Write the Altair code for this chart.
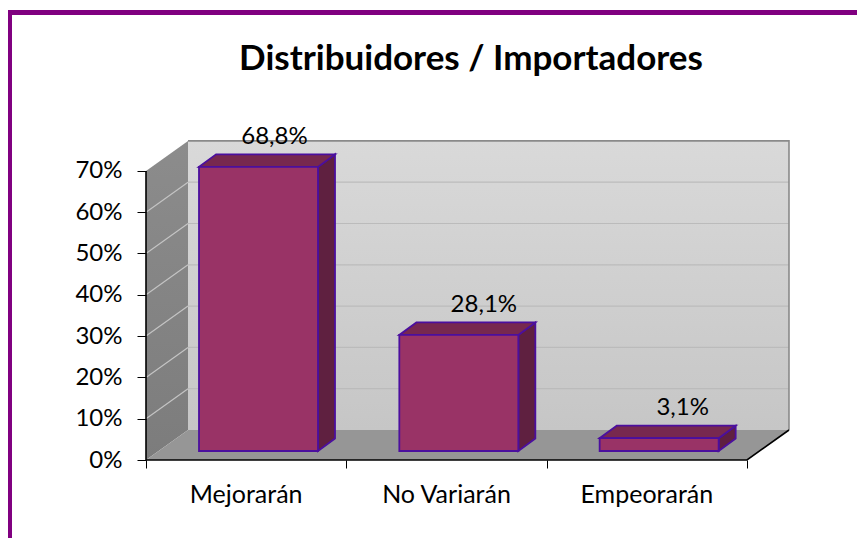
import altair as alt
import pandas as pd

title_text = "Distribuidores / Importadores"
categories = ["Mejorarán", "No Variarán", "Empeorarán"]
values = [68.8, 28.1, 3.1]
labels = ["68,8%", "28,1%", "3,1%"]
tick_values = [0, 10, 20, 30, 40, 50, 60, 70]

# layout constants (pixels per data unit and projected depths)
PX_X = 200.33
PX_Y = 4.13
WIDTH = 643
HEIGHT = 320
DX = 42 / PX_X
DY = 30 / PX_Y
GAP = 53 / PX_X
BAR_W = 119 / PX_X
BASE = 9 / PX_Y
BAR_DX = 17 / PX_X
BAR_DY = 12.5 / PX_Y
LABEL_DX = [16, 25, 23.5]
LABEL_DY = -30
N = len(categories)
TOP = tick_values[-1]

xs = alt.Scale(domain=[0, WIDTH / PX_X], nice=False, zero=False)
ys = alt.Scale(domain=[0, HEIGHT / PX_Y], nice=False, zero=False)
FONT = "Lato"


def X(f="x", **k):
    return alt.X(f, type="quantitative", scale=xs, title=None, **k)


def Y(f="y", **k):
    return alt.Y(f, type="quantitative", scale=ys, title=None, **k)


def X2(f="x2"):
    return alt.X2(f)


def Y2(f="y2"):
    return alt.Y2(f)


STROKE = "#4b0f9e"

# walls and floor
base_axes = (
    alt.Chart(pd.DataFrame({"x": [DX], "x2": [N + DX], "y": [DY], "y2": [TOP + DY]}))
    .mark_rect(
        fill=alt.Gradient(
            gradient="linear", x1=0, x2=0, y1=0, y2=1,
            stops=[alt.GradientStop(offset=0, color="#d9d9d9"),
                   alt.GradientStop(offset=1, color="#c6c6c6")],
        )
    )
    .encode(
        x=X(axis=alt.Axis(values=list(range(N + 1)), labels=False, domain=False, grid=False,
                          ticks=True, tickSize=8, tickColor="#000000", tickWidth=1, zindex=1)),
        x2=X2(),
        y=Y(axis=alt.Axis(values=tick_values, labelExpr="datum.value + '%'", domain=False, grid=False,
                          tickSize=9, tickColor="#000000", tickWidth=1, labelFont=FONT,
                          labelFontSize=24, labelColor="#000000", labelPadding=15, zindex=1)),
        y2=Y2(),
    )
)

left_wall = (
    alt.Chart(pd.DataFrame({"x": [0, DX], "y": [0, DY], "y2": [TOP, TOP + DY]}))
    .mark_area(
        fill=alt.Gradient(
            gradient="linear", x1=0, x2=0, y1=0, y2=1,
            stops=[alt.GradientStop(offset=0, color="#8c8c8c"),
                   alt.GradientStop(offset=1, color="#7c7c7c")],
        )
    )
    .encode(x=X(), y=Y(stack=None), y2=Y2())
)

floor = (
    alt.Chart(pd.DataFrame({"y": [0, DY], "x": [0, DX], "x2": [N, N + DX]}))
    .mark_area(orient="horizontal", color="#969696")
    .encode(y=Y(), x=X(stack=None), x2=X2())
)

back_grid = (
    alt.Chart(pd.DataFrame({"y": [v + DY for v in tick_values[1:-1]], "x": [DX] * (len(tick_values) - 2),
                            "x2": [N + DX] * (len(tick_values) - 2)}))
    .mark_rule(color="#bbbbbb", strokeWidth=1.2)
    .encode(x=X(), x2=X2(), y=Y())
)

side_rows = []
for v in tick_values[1:-1]:
    side_rows.append({"v": v, "x": 0, "y": v})
    side_rows.append({"v": v, "x": DX, "y": v + DY})
side_grid = (
    alt.Chart(pd.DataFrame(side_rows))
    .mark_line(color="#c4c4c4", strokeWidth=1.2)
    .encode(x=X(), y=Y(), detail="v:N")
)

wall_edge = (
    alt.Chart(pd.DataFrame({"x": [DX, N + DX, N + DX], "y": [TOP + DY, TOP + DY, DY], "o": [0, 1, 2]}))
    .mark_line(color="#8a8a8a", strokeWidth=1.6)
    .encode(x=X(), y=Y(), order="o:Q")
)

# bars
front_rows, top_rows, side_rows2 = [], [], []
for i, (c, v) in enumerate(zip(categories, values)):
    left = i + GAP
    right = left + BAR_W
    top = BASE + v
    front_rows.append({"c": c, "x": left, "x2": right, "y": BASE, "y2": top})
    top_rows.append({"c": c, "y": top, "x": left, "x2": right})
    top_rows.append({"c": c, "y": top + BAR_DY, "x": left + BAR_DX, "x2": right + BAR_DX})
    side_rows2.append({"c": c, "x": right, "y": BASE, "y2": top})
    side_rows2.append({"c": c, "x": right + BAR_DX, "y": BASE + BAR_DY, "y2": top + BAR_DY})

bar_side = (
    alt.Chart(pd.DataFrame(side_rows2))
    .mark_area(color="#5f2040", stroke=STROKE, strokeWidth=1.8)
    .encode(x=X(), y=Y(stack=None), y2=Y2(), detail="c:N")
)
bar_top = (
    alt.Chart(pd.DataFrame(top_rows))
    .mark_area(orient="horizontal", color="#77284f", stroke=STROKE, strokeWidth=1.8)
    .encode(y=Y(), x=X(stack=None), x2=X2(), detail="c:N")
)
bar_front = (
    alt.Chart(pd.DataFrame(front_rows))
    .mark_rect(fill="#993366", stroke=STROKE, strokeWidth=1.8)
    .encode(x=X(), x2=X2(), y=Y(), y2=Y2())
)

# axis lines
y_line = (
    alt.Chart(pd.DataFrame({"x": [0, 0], "y": [0, TOP]}))
    .mark_line(color="#000000", strokeWidth=1.6)
    .encode(x=X(), y=Y())
)
x_line = (
    alt.Chart(pd.DataFrame({"x": [0, N, N + DX], "y": [0, 0, DY]}))
    .mark_line(color="#000000", strokeWidth=1.6)
    .encode(x=X(), y=Y(), order=alt.Order("x:Q"))
)

# texts
cat_text = (
    alt.Chart(pd.DataFrame({"x": [i + 0.5 for i in range(N)], "c": categories}))
    .mark_text(font=FONT, fontSize=25, color="#000000", baseline="middle")
    .encode(x=X(), y=alt.value(355), text="c:N")
)
value_layers = []
for i in range(N):
    value_layers.append(
        alt.Chart(pd.DataFrame({"x": [i + GAP + BAR_W / 2], "y": [BASE + values[i]], "t": [labels[i]]}))
        .mark_text(font=FONT, fontSize=24, color="#000000", baseline="middle",
                   dx=LABEL_DX[i], dy=LABEL_DY)
        .encode(x=X(), y=Y(), text="t:N")
    )

title_mark = (
    alt.Chart(pd.DataFrame({"t": [title_text]}))
    .mark_text(font=FONT, fontSize=35, fontWeight="bold", color="#000000", baseline="alphabetic", align="center")
    .encode(x=alt.value(325), y=alt.value(-70), text="t:N")
)

# page frame
frame_left = alt.Chart(pd.DataFrame({"a": [0]})).mark_rule(color="#800080", strokeWidth=5).encode(
    x=alt.value(-136.5), y=alt.value(-130), y2=alt.value(398)
)
frame_top = alt.Chart(pd.DataFrame({"a": [0]})).mark_rule(color="#800080", strokeWidth=5).encode(
    y=alt.value(-127.5), x=alt.value(-138), x2=alt.value(711)
)

chart = (
    alt.layer(base_axes, left_wall, floor, back_grid, side_grid, wall_edge,
              bar_side, bar_top, bar_front, y_line, x_line, cat_text, *value_layers,
              title_mark, frame_left, frame_top)
    .properties(
        width=WIDTH,
        height=HEIGHT,
        autosize=alt.AutoSizeParams(type="none"),
        padding={"left": 138, "top": 132, "right": 68, "bottom": 78},
        background="#ffffff",
    )
    .configure_view(stroke=None)
)

chart.save("out.html", embed_options={"renderer": "svg", "actions": False})
